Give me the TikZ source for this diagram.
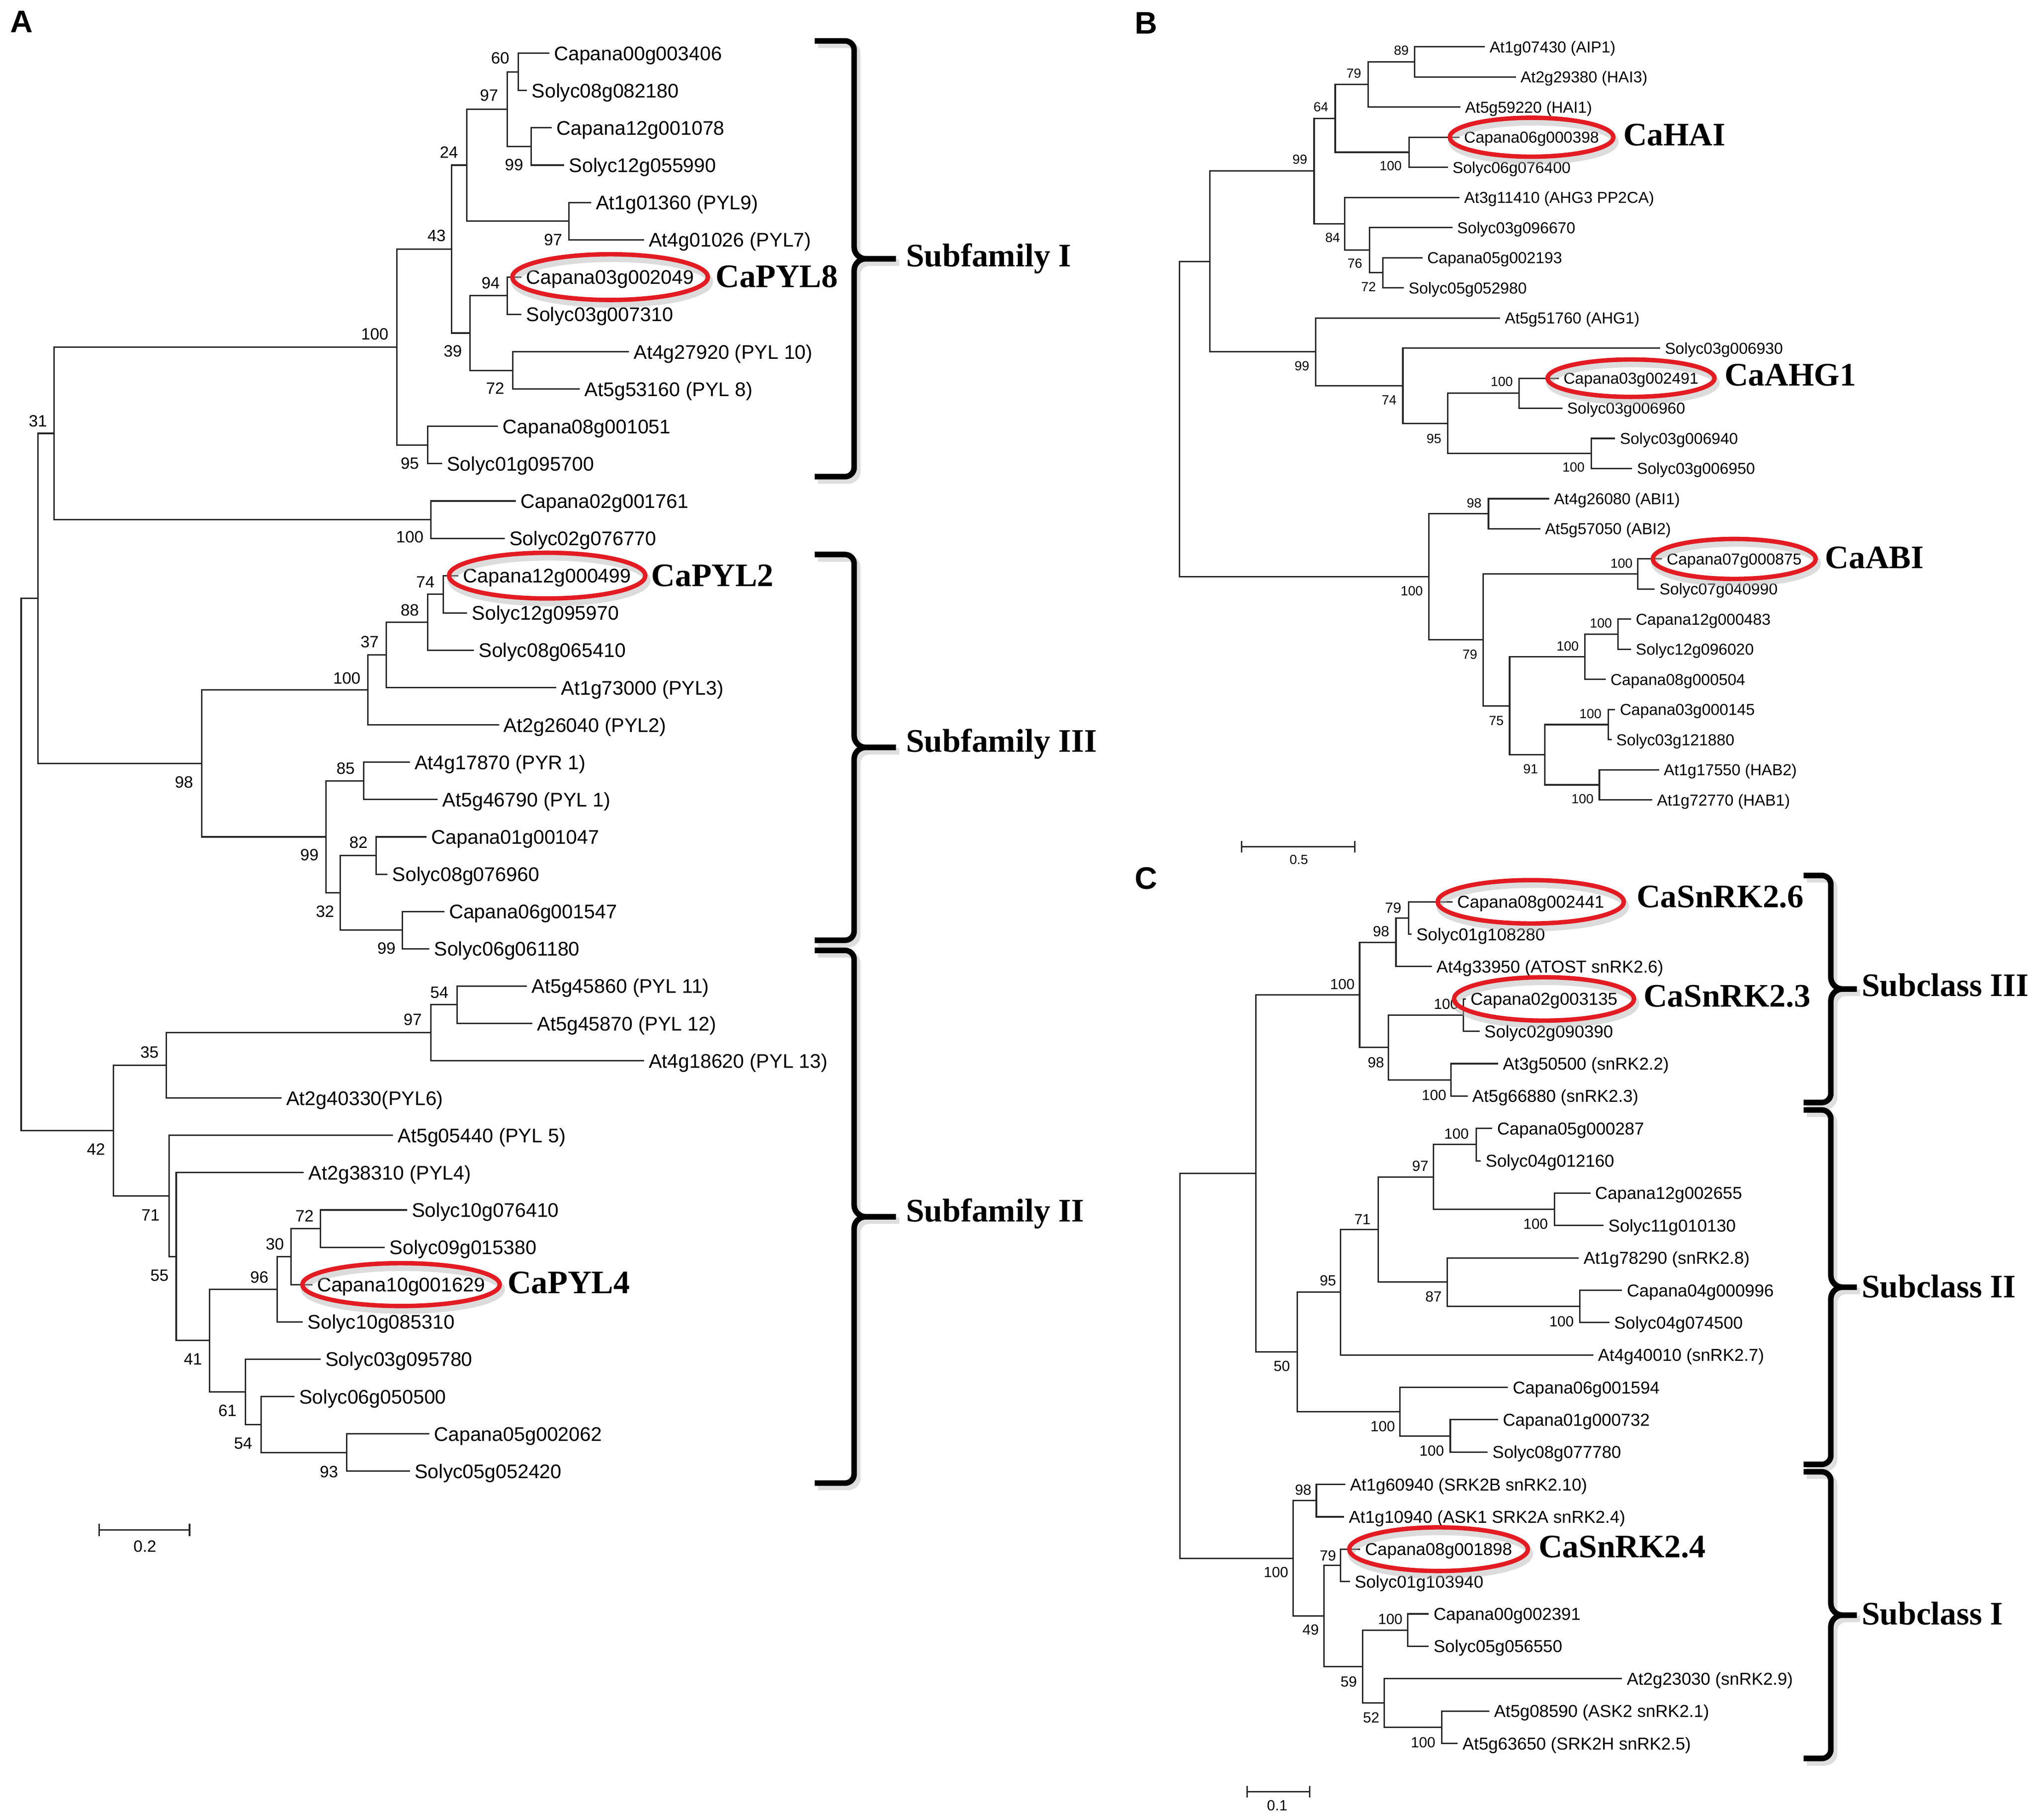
\documentclass[tikz,border=0pt]{standalone}
\usepackage{fontspec}
\setmainfont{Liberation Serif}
\setsansfont{Liberation Sans}
\usetikzlibrary{calc}
\definecolor{ringred}{RGB}{226,28,34}
\newcommand\clade[4]{\path ($(#3)!.5!(#4)$) coordinate (tmpmid);
  \coordinate (#1) at (#2,0 |- tmpmid);
  \draw[br] (#3) -| (#1) |- (#4);}
\newcommand\bracepath{(\xl,\ya) -- ({\xv-7},\ya) to[out=0,in=90] (\xv,{\ya+7}) -- (\xv,{\ym-9}) to[out=-90,in=180] ({\xv+9},\ym) -- (\xt,\ym) ({\xv+9},\ym) to[out=180,in=90] (\xv,{\ym+9}) -- (\xv,{\yb-7}) to[out=-90,in=0] ({\xv-7},\yb) -- (\xl,\yb)}
\begin{document}
\begin{tikzpicture}[x=1pt,y=-1pt]
\tikzset{br/.style={draw=black!85,line width=1.1pt},
  lf/.style={anchor=west,inner xsep=3.5pt,inner ysep=0pt,text depth=0pt},
  lfA/.style={lf,text height=11pt,font=\sffamily\fontsize{15.2}{16}\selectfont},
  lfB/.style={lf,text height=8.8pt,font=\sffamily\fontsize{12.2}{13}\selectfont},
  lfC/.style={lf,text height=9.6pt,font=\sffamily\fontsize{13.3}{14}\selectfont},
  bs/.style={inner sep=0pt,text depth=0pt},
  bsA/.style={bs,text height=9pt,font=\sffamily\fontsize{12.6}{13}\selectfont},
  bsB/.style={bs,text height=7.3pt,font=\sffamily\fontsize{10.2}{11}\selectfont},
  bsC/.style={bs,text height=8.1pt,font=\sffamily\fontsize{11.3}{12}\selectfont},
  tag/.style={anchor=west,inner sep=0pt,text height=16.7pt,text depth=0pt,font=\bfseries\fontsize{25.3}{26}\selectfont},
  panel/.style={inner sep=0pt,text height=17.2pt,text depth=0pt,font=\sffamily\bfseries\fontsize{24}{24}\selectfont},
  ring/.style={draw=ringred,line width=3.4pt},
  ringshade/.style={draw=black!30,line width=5pt,opacity=.45},
  brc/.style={draw=black,line width=4.3pt},
  brcshade/.style={draw=black!25,line width=5pt,opacity=.5}}
\useasboundingbox (0,0) rectangle (1568,1401.5);
\fill[white] (0,0) rectangle (1568,1401.5);
\node[panel] (pA) at (16.7,16.3) {A};
\node[panel] (pB) at (882.5,17.5) {B};
\node[panel] (pC) at (882.8,676) {C};
\foreach \t/\s [count=\i] in {423/Capana00g003406, 405.8/Solyc08g082180, 425/Capana12g001078, 434.6/Solyc12g055990, 455.2/At1g01360 (PYL9), 496/At4g01026 (PYL7), 401.5/Capana03g002049, 401.5/Solyc03g007310, 484.4/At4g27920 (PYL 10), 446.6/At5g53160 (PYL 8), 383.5/Capana08g001051, 340.5/Solyc01g095700, 397.2/Capana02g001761, 388.6/Solyc02g076770, 353/Capana12g000499, 359.8/Solyc12g095970, 365/Solyc08g065410, 428.5/At1g73000 (PYL3), 384.3/At2g26040 (PYL2), 315.6/At4g17870 (PYR 1), 337.1/At5g46790 (PYL 1), 328.5/Capana01g001047, 298.4/Solyc08g076960, 342.2/Capana06g001547, 330.6/Solyc06g061180, 405.8/At5g45860 (PYL 11), 410.1/At5g45870 (PYL 12), 496/At4g18620 (PYL 13), 216.8/At2g40330(PYL6), 302.7/At5g05440 (PYL 5), 234/At2g38310 (PYL4), 313.5/Solyc10g076410, 296.3/Solyc09g015380, 240.5/Capana10g001629, 233.2/Solyc10g085310, 246.9/Solyc03g095780, 226.7/Solyc06g050500, 330.6/Capana05g002062, 315.6/Solyc05g052420}
  \node[lfA] (a\i) at (\t,{41+28.74*(\i-1)}) {\s};
\foreach \n/\x/\a/\b in {ia60/399.3/a1/a2, ia99/409.2/a3/a4, ia97/390.8/ia60/ia99, ia97b/438/a5/a6, ia24/359.4/ia97/ia97b, ia94/390.8/a7/a8, ia72/395/a9/a10, ia39/362/ia94/ia72, ia43/347.8/ia24/ia39, ia95/329.3/a11/a12, ia100/305.7/ia43/ia95, ia100b/332/a13/a14, ia31/41.7/ia100/ia100b, ia74/341.4/a15/a16, ia88/329.3/ia74/a17, ia37/297.6/ia88/a18, ia100c/283.4/ia37/a19, ia85/280/a20/a21, ia82/289.8/a22/a23, ia99b/310/a24/a25, ia32/261.9/ia82/ia99b, ia99c/251.2/ia85/ia32, ia98/155.4/ia100c/ia99c, iaX/29.2/ia31/ia98, ia54/352.1/a26/a27, ia97c/331.9/ia54/a28, ia35/128/ia97c/a29, ia72b/246.9/a32/a33, ia30/224.1/ia72b/a34, ia96/213.4/ia30/a35, ia93/267.1/a38/a39, ia54b/201/a37/ia93, ia61/188.9/a36/ia54b, ia41/161.5/ia96/ia61, ia55/135.7/a31/ia41, ia71/130.1/a30/ia55, ia42/87.2/ia35/ia71, iaR/16.3/iaX/ia42}
  {\clade{\n}{\x}{\a}{\b}}
\foreach \x/\y/\v [count=\i] in {385.2/44.7/60, 376.6/73.2/97, 395.9/126.9/99, 345.7/117.2/24, 426/184.4/97, 336.2/181.2/43, 377.9/217.8/94, 348.7/270.4/39, 381.3/299.1/72, 288.6/257.1/100, 315.6/356.6/95, 29.2/324.1/31, 315.6/413.6/100, 327.6/448.2/74, 315.6/469.8/88, 284.7/494.2/37, 267.1/522.1/100, 141.7/602.4/98, 266.2/591.7/85, 238.3/658.3/99, 276.1/648.8/82, 250.3/701.8/32, 297.6/730.4/99, 338.4/764.2/54, 317.8/785.3/97, 115.1/810.3/35, 73.9/885.2/42, 115.9/935.8/71, 122.8/982.2/55, 234.5/936.6/72, 211.7/958.1/30, 199.7/983.7/96, 148.6/1046.8/41, 175.2/1086.5/61, 187.2/1111.4/54, 253.3/1133.5/93}
  \node[bsA] (ba\i) at (\x,\y) {\v};
\foreach \t/\s [count=\i] in {1143.5/At1g07430 (AIP1), 1167.4/At2g29380 (HAI3), 1124.7/At5g59220 (HAI1), 1123.9/Capana06g000398, 1115/Solyc06g076400, 1124/At3g11410 (AHG3 PP2CA), 1118.6/Solyc03g096670, 1095.5/Capana05g002193, 1081.2/Solyc05g052980, 1155.2/At5g51760 (AHG1), 1278.5/Solyc03g006930, 1200.5/Capana03g002491, 1203.2/Solyc03g006960, 1243.9/Solyc03g006940, 1257/Solyc03g006950, 1193.1/At4g26080 (ABI1), 1186.2/At5g57050 (ABI2), 1280/Capana07g000875, 1274.4/Solyc07g040990, 1256.1/Capana12g000483, 1256.1/Solyc12g096020, 1236.6/Capana08g000504, 1243.9/Capana03g000145, 1241.1/Solyc03g121880, 1277.7/At1g17550 (HAB2), 1272.4/At1g72770 (HAB1)}
  \node[lfB] (b\i) at (\t,{36.1+23.2*(\i-1)}) {\s};
\foreach \n/\x/\a/\b in {ib89/1089.3/b1/b2, ib79/1053.5/ib89/b3, ib100/1085.3/b4/b5, ib64/1028.3/ib79/ib100, ib72/1064.9/b8/b9, ib76/1054.8/b7/ib72, ib84/1035.6/b6/ib76, ib99/1012/ib64/ib84, ib100b/1169.9/b12/b13, ib100c/1225.6/b14/b15, ib95/1115/ib100b/ib100c, ib74/1080.4/b11/ib95, ib99b/1013.3/b10/ib74, ibX/931.9/ib99/ib99b, ib98/1146.3/b16/b17, ib100e/1261.4/b18/b19, ib100g/1246/b20/b21, ib100f/1220.7/ib100g/b22, ib100h/1238.6/b23/b24, ib100i/1231.7/b25/b26, ib91/1189.8/ib100h/ib100i, ib75/1162.6/ib100f/ib91, ib79b/1142.2/ib100e/ib75, ib100d/1100.3/ib98/ib79b, ibR/908.3/ibX/ib100d}
  {\clade{\n}{\x}{\a}{\b}}
\foreach \x/\y/\v [count=\i] in {1079.2/38.6/89, 1042.6/56.3/79, 1017.3/82.2/64, 1071/127.7/100, 1001.1/122.8/99, 1026.3/182.9/84, 1043.4/202.9/76, 1054/220.7/72, 1002.7/281.7/99, 1069.8/308.1/74, 1156.5/293.7/100, 1104.4/337.7/95, 1211.8/359.8/100, 1135.3/387.5/98, 1087.3/455.1/100, 1248.8/433.9/100, 1132/504.1/79, 1232.9/480/100, 1207.3/497.6/100, 1152.4/555/75, 1224.8/549.8/100, 1178.8/592.1/91, 1218.7/615.3/100}
  \node[bsB] (bb\i) at (\x,\y) {\v};
\foreach \t/\s [count=\i] in {1118.6/Capana08g002441, 1087.1/Solyc01g108280, 1102.6/At4g33950 (ATOST snRK2.6), 1128.8/Capana02g003135, 1139.5/Solyc02g090390, 1153.7/At3g50500 (snRK2.2), 1130.2/At5g66880 (snRK2.3), 1149.3/Capana05g000287, 1140.4/Solyc04g012160, 1224.8/Capana12g002655, 1235/Solyc11g010130, 1215.9/At1g78290 (snRK2.8), 1249.2/Capana04g000996, 1239.4/Solyc04g074500, 1227/At4g40010 (snRK2.7), 1161.3/Capana06g001594, 1153.7/Capana01g000732, 1145.7/Solyc08g077780, 1036/At1g60940 (SRK2B snRK2.10), 1035.1/At1g10940 (ASK1 SRK2A snRK2.4), 1047.6/Capana08g001898, 1039.6/Solyc01g103940, 1100.4/Capana00g002391, 1100.4/Solyc05g056550, 1249.2/At2g23030 (snRK2.9), 1147/At5g08590 (ASK2 snRK2.1), 1122.6/At5g63650 (SRK2H snRK2.5)}
  \node[lfC] (c\i) at (\t,{694.6+24.93*(\i-1)}) {\s};
\foreach \n/\x/\a/\b in {ic79/1084.9/c1/c2, ic98/1075.1/ic79/c3, ic100b/1127.1/c4/c5, ic100c/1117.3/c6/c7, ic98b/1069.3/ic100b/ic100c, ic100/1047.1/ic98/ic98b, ic100e/1136.8/c8/c9, ic100f/1197.2/c10/c11, ic97/1104/ic100e/ic100f, ic100g/1216.8/c13/c14, ic87/1114.6/c12/ic100g, ic71/1061.3/ic97/ic87, ic95/1032.5/ic71/c15, ic100i/1116.9/c17/c18, ic100h/1078.2/c16/ic100i, ic50/999.2/ic95/ic100h, icX/967.2/ic100/ic50, ic98c/1013.8/c19/c20, ic79b/1032.5/c21/c22, ic100j/1084/c23/c24, ic100k/1110.2/c26/c27, ic52/1066.2/c25/ic100k, ic59/1049.3/ic100j/ic52, ic49/1019.6/ic79b/ic59, ic100d/996/ic98c/ic49, icR/908.6/icX/ic100d}
  {\clade{\n}{\x}{\a}{\b}}
\foreach \x/\y/\v [count=\i] in {1072.9/699.2/79, 1063.6/717.4/98, 1033.8/757.8/100, 1113.7/773.1/100, 1059.6/818.3/98, 1104.4/843.5/100, 1121.7/873.3/100, 1093.8/898/97, 1049.3/939.1/71, 1182.6/942.7/100, 1022.7/986.3/95, 1104/998.5/87, 1202.6/1017.6/100, 987.2/1052.2/50, 1064.9/1098.6/100, 1102.6/1117.3/100, 1003.6/1147.4/98, 1022.7/1197.9/79, 982.7/1211/100, 1009.4/1255.2/49, 1070.7/1247/100, 1038.7/1295/59, 1056/1322.9/52, 1096/1342.1/100}
  \node[bsC] (bc\i) at (\x,\y) {\v};
\foreach \n/\rx/\ry in {a7/75.3/17.6, a15/75.6/17.6, a34/76/16.5, b4/63/15, b12/64.3/14.4, b18/62.7/15.4, c1/71.7/16.7, c4/69.3/16.7, c21/68.8/16.8}
  {\draw[ringshade] ([shift={(1.5,3.5)}]\n.center) ellipse [x radius=\rx, y radius=\ry];
   \draw[ring] (\n.center) ellipse [x radius=\rx, y radius=\ry];}
\foreach \x/\y/\t [count=\i] in {551/213/CaPYL8, 501.5/443.2/CaPYL2, 390.8/988/CaPYL4, 1250/103.7/CaHAI, 1328/288.8/CaAHG1, 1405.4/429.4/CaABI, 1260.3/690.6/CaSnRK2.6, 1265.6/767/CaSnRK2.3, 1184.8/1191.3/CaSnRK2.4}
  \node[tag] (tg\i) at (\x,\y) {\t};
\foreach \xl/\xv/\xt/\ya/\yb in {627.4/657.8/690/31.5/367.1, 627.4/657.8/690/427.1/724.2, 627.4/657.8/690/732/1142.3, 1389/1410/1430/674.3/849.2, 1389/1410/1430/854.9/1127.9, 1389/1410/1430/1133.6/1354.4}
  {\pgfmathsetmacro\ym{(\ya+\yb)/2}
   \draw[brcshade,shift={(2.5,3)}] \bracepath;
   \draw[brc] \bracepath;}
\foreach \x/\y/\t [count=\i] in {697.6/197/Subfamily I, 697.6/571/Subfamily III, 697.6/932.5/Subfamily II, 1433.5/759/Subclass III, 1433.5/991.2/Subclass II, 1433.5/1243/Subclass I}
  \node[tag] (gr\i) at (\x,\y) {\t};
\coordinate (sA0) at (76.4,1178.4); \coordinate (sA1) at (146,1178.4);
\draw[br] (sA0) -- (sA1) ([yshift=4.8pt]sA0) -- ([yshift=-4.8pt]sA0) ([yshift=4.8pt]sA1) -- ([yshift=-4.8pt]sA1);
\node[bsA] (sAt) at (111.6,1190.8) {0.2};
\coordinate (sB0) at (956.3,652.2); \coordinate (sB1) at (1043.4,652.2);
\draw[br] (sB0) -- (sB1) ([yshift=4.3pt]sB0) -- ([yshift=-4.3pt]sB0) ([yshift=4.3pt]sB1) -- ([yshift=-4.3pt]sB1);
\node[bsB] (sBt) at (1000.3,661.9) {0.5};
\coordinate (sC0) at (960.5,1380.1); \coordinate (sC1) at (1008.5,1380.1);
\draw[br] (sC0) -- (sC1) ([yshift=4.5pt]sC0) -- ([yshift=-4.5pt]sC0) ([yshift=4.5pt]sC1) -- ([yshift=-4.5pt]sC1);
\node[bsC] (sCt) at (983.6,1390.5) {0.1};
\end{tikzpicture}
\end{document}
